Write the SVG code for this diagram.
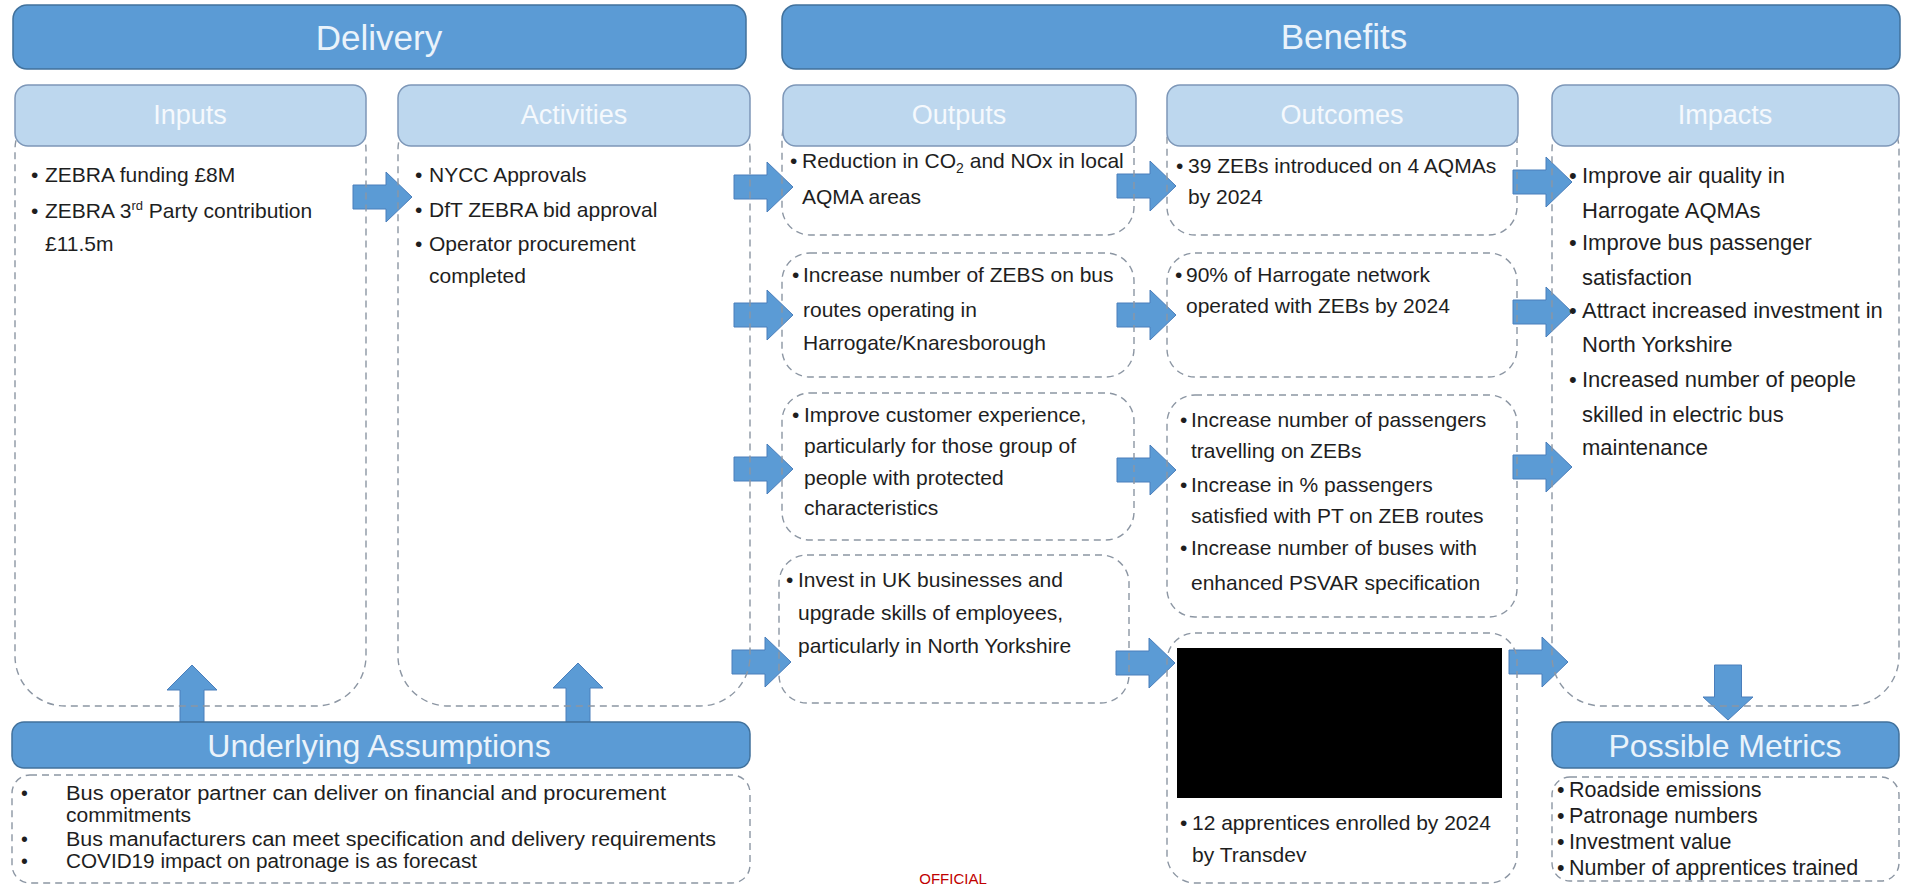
<svg xmlns="http://www.w3.org/2000/svg" width="1907" height="886" viewBox="0 0 1907 886">
<style>
text{font-family:"Liberation Sans",Arial,sans-serif;}
.bar{fill:#5B9BD5;stroke:#41719C;stroke-width:1.5;}
.hdr{fill:#BDD7EE;stroke:#7D97B8;stroke-width:1.5;}
.box{fill:none;stroke:#8C96A3;stroke-width:1.4;stroke-dasharray:7 5;}
.arr{fill:#5B9BD5;stroke:#4A7EBB;stroke-width:1;}
.ttl{fill:#EAF3FB;font-size:35px;text-anchor:middle;}
.sub{fill:#EAF3FB;font-size:32px;text-anchor:middle;}
.hd{fill:#F5F9FD;font-size:27px;text-anchor:middle;}
.t{fill:#1E1E1E;font-size:21px;}
.ti{fill:#1E1E1E;font-size:22px;}
.ta{fill:#1E1E1E;font-size:19.5px;}
.tm{fill:#1E1E1E;font-size:21.5px;}
.off{fill:#C00000;font-size:15px;text-anchor:middle;}
</style>
<rect width="1907" height="886" fill="#FFFFFF"/>

<g id="connectors">
<path class="arr" d="M353 185H386V172L412 197L386 222V209H353Z"/>
<path class="arr" d="M734 175H767V162L793 187L767 212V199H734Z"/>
<path class="arr" d="M734 303H767V290L793 315L767 340V327H734Z"/>
<path class="arr" d="M734 457H767V444L793 469L767 494V481H734Z"/>
<path class="arr" d="M732 650H765V637L791 662L765 687V674H732Z"/>
<path class="arr" d="M1117 174H1150V161L1176 186L1150 211V198H1117Z"/>
<path class="arr" d="M1117 303H1150V290L1176 315L1150 340V327H1117Z"/>
<path class="arr" d="M1117 458H1150V445L1176 470L1150 495V482H1117Z"/>
<path class="arr" d="M1116 651H1149V638L1175 663L1149 688V675H1116Z"/>
<path class="arr" d="M1513 170H1546V157L1572 182L1546 207V194H1513Z"/>
<path class="arr" d="M1513 300H1546V287L1572 312L1546 337V324H1513Z"/>
<path class="arr" d="M1513 455H1546V442L1572 467L1546 492V479H1513Z"/>
<path class="arr" d="M1509 650H1542V637L1568 662L1542 687V674H1509Z"/>
<path class="arr" d="M180 722V690H167L192 665L217 690H204V722Z"/>
<path class="arr" d="M566 722V688H553L578 663L603 688H590V722Z"/>
<path class="arr" d="M1714.5 665H1741.5V697H1753L1728 720L1703 697H1714.5Z"/>
</g>

<g id="delivery">
<rect class="bar" x="13" y="5" width="733" height="64" rx="14"/>
<text class="ttl" x="379" y="50">Delivery</text>
</g>
<g id="benefits">
<rect class="bar" x="782" y="5" width="1118" height="64" rx="14"/>
<text class="ttl" x="1344" y="49">Benefits</text>
</g>

<g id="inputs">
<rect class="box" x="15" y="100" width="351" height="606" rx="50"/>
<rect class="hdr" x="15" y="85" width="351" height="61" rx="13"/>
<text class="hd" x="190" y="124">Inputs</text>
<text class="t" x="31" y="182">•</text>
<text class="t" x="45" y="182">ZEBRA funding £8M</text>
<text class="t" x="31" y="218">•</text>
<text class="t" x="45" y="218">ZEBRA 3<tspan dy="-8" font-size="13">rd</tspan><tspan dy="8"> Party contribution</tspan></text>
<text class="t" x="45" y="251">£11.5m</text>
</g>

<g id="activities">
<rect class="box" x="398" y="100" width="352" height="606" rx="50"/>
<rect class="hdr" x="398" y="85" width="352" height="61" rx="13"/>
<text class="hd" x="574" y="124">Activities</text>
<text class="t" x="415" y="182">•</text>
<text class="t" x="429" y="182">NYCC Approvals</text>
<text class="t" x="415" y="217">•</text>
<text class="t" x="429" y="217">DfT ZEBRA bid approval</text>
<text class="t" x="415" y="251">•</text>
<text class="t" x="429" y="251">Operator procurement</text>
<text class="t" x="429" y="283">completed</text>
</g>

<g id="outputs">
<rect class="box" x="782" y="110" width="352" height="125" rx="28"/>
<rect class="hdr" x="783" y="85" width="353" height="61" rx="13"/>
<text class="hd" x="959" y="124">Outputs</text>
<text class="t" x="790" y="168">•</text>
<text class="t" x="802" y="168">Reduction in CO<tspan dy="5" font-size="14">2</tspan><tspan dy="-5"> and NOx in local</tspan></text>
<text class="t" x="802" y="204">AQMA areas</text>
</g>
<g id="output-zebs">
<rect class="box" x="782" y="253" width="352" height="124" rx="28"/>
<text class="t" x="792" y="282">•</text>
<text class="t" x="803" y="282">Increase number of ZEBS on bus</text>
<text class="t" x="803" y="317">routes operating in</text>
<text class="t" x="803" y="350">Harrogate/Knaresborough</text>
</g>
<g id="output-customer">
<rect class="box" x="782" y="393" width="352" height="147" rx="28"/>
<text class="t" x="792" y="422">•</text>
<text class="t" x="804" y="422">Improve customer experience,</text>
<text class="t" x="804" y="453">particularly for those group of</text>
<text class="t" x="804" y="485">people with protected</text>
<text class="t" x="804" y="515">characteristics</text>
</g>
<g id="output-invest">
<rect class="box" x="779" y="555" width="350" height="148" rx="28"/>
<text class="t" x="786" y="587">•</text>
<text class="t" x="798" y="587">Invest in UK businesses and</text>
<text class="t" x="798" y="620">upgrade skills of employees,</text>
<text class="t" x="798" y="653">particularly in North Yorkshire</text>
</g>

<g id="outcomes">
<rect class="box" x="1167" y="110" width="350" height="125" rx="28"/>
<rect class="hdr" x="1167" y="85" width="351" height="61" rx="13"/>
<text class="hd" x="1342" y="124">Outcomes</text>
<text class="t" x="1176" y="173">•</text>
<text class="t" x="1188" y="173">39 ZEBs introduced on 4 AQMAs</text>
<text class="t" x="1188" y="204">by 2024</text>
</g>
<g id="outcome-network">
<rect class="box" x="1167" y="253" width="350" height="124" rx="28"/>
<text class="t" x="1175" y="282">•</text>
<text class="t" x="1186" y="282">90% of Harrogate network</text>
<text class="t" x="1186" y="313">operated with ZEBs by 2024</text>
</g>
<g id="outcome-passengers">
<rect class="box" x="1167" y="395" width="350" height="222" rx="28"/>
<text class="t" x="1180" y="427">•</text>
<text class="t" x="1191" y="427">Increase number of passengers</text>
<text class="t" x="1191" y="458">travelling on ZEBs</text>
<text class="t" x="1180" y="492">•</text>
<text class="t" x="1191" y="492">Increase in % passengers</text>
<text class="t" x="1191" y="523">satisfied with PT on ZEB routes</text>
<text class="t" x="1180" y="555">•</text>
<text class="t" x="1191" y="555">Increase number of buses with</text>
<text class="t" x="1191" y="590">enhanced PSVAR specification</text>
</g>
<g id="outcome-apprentices">
<rect class="box" x="1167" y="633" width="350" height="250" rx="28"/>
<rect x="1177" y="648" width="325" height="150" fill="#000000"/>
<text class="t" x="1180" y="830">•</text>
<text class="t" x="1192" y="830">12 apprentices enrolled by 2024</text>
<text class="t" x="1192" y="862">by Transdev</text>
</g>

<g id="impacts">
<rect class="box" x="1552" y="100" width="347" height="606" rx="50"/>
<rect class="hdr" x="1552" y="85" width="347" height="61" rx="13"/>
<text class="hd" x="1725" y="124">Impacts</text>
<text class="ti" x="1569" y="183">•</text>
<text class="ti" x="1582" y="183">Improve air quality in</text>
<text class="ti" x="1582" y="218">Harrogate AQMAs</text>
<text class="ti" x="1569" y="250">•</text>
<text class="ti" x="1582" y="250">Improve bus passenger</text>
<text class="ti" x="1582" y="285">satisfaction</text>
<text class="ti" x="1569" y="318">•</text>
<text class="ti" x="1582" y="318">Attract increased investment in</text>
<text class="ti" x="1582" y="352">North Yorkshire</text>
<text class="ti" x="1569" y="387">•</text>
<text class="ti" x="1582" y="387">Increased number of people</text>
<text class="ti" x="1582" y="422">skilled in electric bus</text>
<text class="ti" x="1582" y="455">maintenance</text>
</g>

<g id="assumptions">
<rect class="bar" x="12" y="722" width="738" height="46" rx="12"/>
<text class="sub" x="379" y="757">Underlying Assumptions</text>
<rect class="box" x="12" y="775" width="738" height="108" rx="18"/>
<text class="ta" x="21" y="800">•</text>
<text class="ta" x="66" y="800" textLength="600" lengthAdjust="spacingAndGlyphs">Bus operator partner can deliver on financial and procurement</text>
<text class="ta" x="66" y="822" textLength="125" lengthAdjust="spacingAndGlyphs">commitments</text>
<text class="ta" x="21" y="846">•</text>
<text class="ta" x="66" y="846" textLength="650" lengthAdjust="spacingAndGlyphs">Bus manufacturers can meet specification and delivery requirements</text>
<text class="ta" x="21" y="868">•</text>
<text class="ta" x="66" y="868" textLength="411" lengthAdjust="spacingAndGlyphs">COVID19 impact on patronage is as forecast</text>
</g>

<g id="metrics">
<rect class="bar" x="1552" y="722" width="347" height="46" rx="12"/>
<text class="sub" x="1725" y="757">Possible Metrics</text>
<rect class="box" x="1552" y="777" width="347" height="104" rx="18"/>
<text class="tm" x="1557" y="797">•</text>
<text class="tm" x="1569" y="797">Roadside emissions</text>
<text class="tm" x="1557" y="823">•</text>
<text class="tm" x="1569" y="823">Patronage numbers</text>
<text class="tm" x="1557" y="849">•</text>
<text class="tm" x="1569" y="849">Investment value</text>
<text class="tm" x="1557" y="875">•</text>
<text class="tm" x="1569" y="875">Number of apprentices trained</text>
</g>

<text class="off" x="953" y="884">OFFICIAL</text>
</svg>
